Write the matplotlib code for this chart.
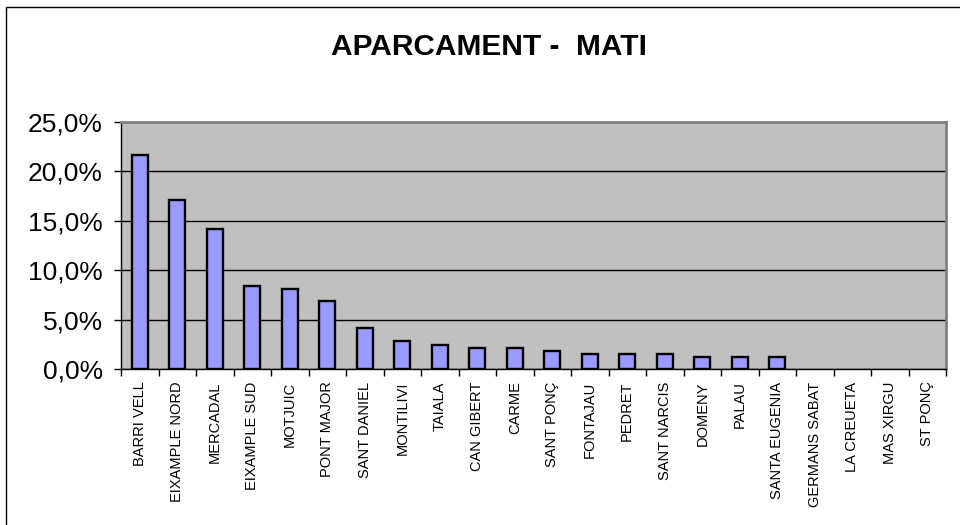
import matplotlib.pyplot as plt
import numpy as np
from matplotlib.patches import Rectangle
from matplotlib.ticker import FuncFormatter, FixedLocator

plt.rcParams['font.family'] = ['Liberation Sans', 'DejaVu Sans']

# --- données ---
barris = ['BARRI VELL', 'EIXAMPLE NORD', 'MERCADAL', 'EIXAMPLE SUD', 'MOTJUIC',
          'PONT MAJOR', 'SANT DANIEL', 'MONTILIVI', 'TAIALA', 'CAN GIBERT',
          'CARME', 'SANT PONÇ', 'FONTAJAU', 'PEDRET', 'SANT NARCIS', 'DOMENY',
          'PALAU', 'SANTA EUGENIA', 'GERMANS SABAT', 'LA CREUETA', 'MAS XIRGU',
          'ST PONÇ']
percentatges = [21.7, 17.1, 14.2, 8.4, 8.1, 6.9, 4.2, 2.8, 2.4, 2.1,
                2.1, 1.8, 1.5, 1.5, 1.5, 1.2, 1.2, 1.2, 0.0, 0.0, 0.0, 0.0]
y_ticks = [0, 5, 10, 15, 20, 25]

fig = plt.figure(figsize=(9.6, 5.25), dpi=100)
ax = fig.add_axes([121 / 960, 1 - 369 / 525, (946 - 121) / 960, (369 - 122) / 525])

x = np.arange(len(barris))
# pas de contour pour les barres à zéro
contours = [1.7 if v > 0 else 0 for v in percentatges]
ax.bar(x, percentatges, width=0.43, color='#9999FF', edgecolor='black',
       linewidth=contours, zorder=3)

ax.set_facecolor('#C0C0C0')
ax.set_xlim(-0.5, len(barris) - 0.5)
ax.set_ylim(0, 25)
ax.set_yticks(y_ticks)
ax.yaxis.set_major_formatter(FuncFormatter(lambda v, p: f"{v:.1f}%".replace('.', ',')))
ax.grid(axis='y', color='black', linewidth=1, zorder=1)

ax.set_xticks(x)
ax.set_xticklabels(barris, rotation=90, fontsize=10.5)
ax.xaxis.set_minor_locator(FixedLocator(np.arange(-0.5, len(barris), 1)))
ax.tick_params(axis='x', which='major', length=0, pad=9)
ax.tick_params(axis='x', which='minor', length=5, width=1, direction='out')
ax.tick_params(axis='y', labelsize=19, length=5, width=1, direction='out', pad=8)

for s in ['left', 'bottom']:
    ax.spines[s].set_color('black')
    ax.spines[s].set_linewidth(1)
for s in ['top', 'right']:
    ax.spines[s].set_color('#808080')
    ax.spines[s].set_linewidth(2)

fig.text(489 / 960, 1 - 47 / 525, 'APARCAMENT -  MATI', ha='center', va='center',
         fontsize=21.5, fontweight='bold')

# cadre du graphique
fig.patches.append(Rectangle((6 / 960, -0.05), 1.1, 1 - 7 / 525 + 0.05,
                             transform=fig.transFigure, fill=False,
                             edgecolor='black', linewidth=1))

plt.savefig('out.png', dpi=100)
plt.close()
